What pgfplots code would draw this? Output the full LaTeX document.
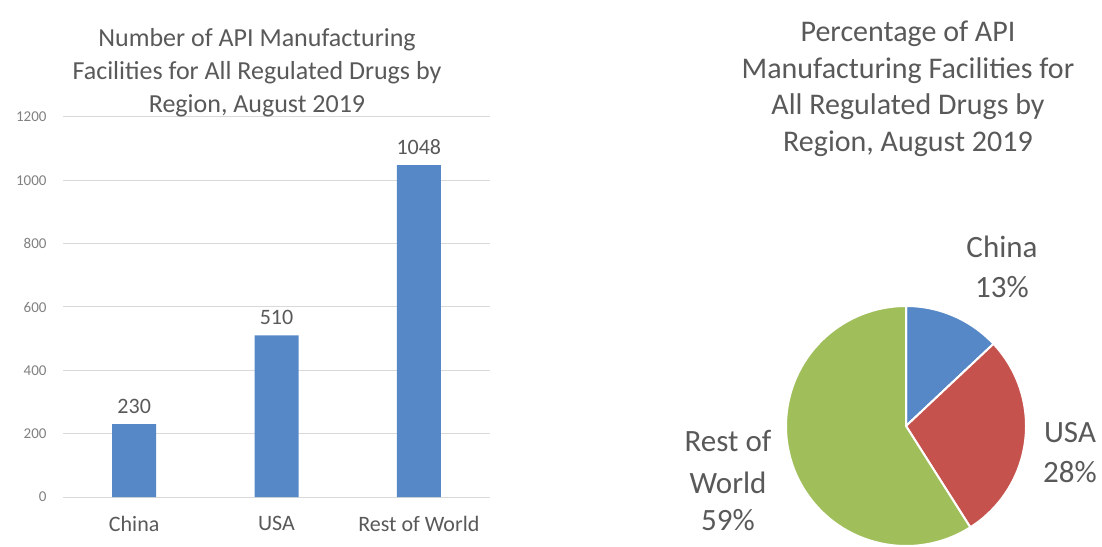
\documentclass[border=0pt]{standalone}
\usepackage{pgfplots}
\pgfplotsset{compat=1.18}
\usepackage{pgfplotstable}
\usepackage{fontspec}
\setmainfont{Carlito}
\definecolor{barblue}{HTML}{5688C7}
\definecolor{piered}{HTML}{C6524E}
\definecolor{piegreen}{HTML}{A0BF5B}
\definecolor{txt}{HTML}{595959}
\definecolor{gridc}{HTML}{D9D9D9}

\pgfplotstableread{
x value
0 230
1 510
2 1048
}\bardata
% pie shares (percent): China, USA, Rest of World
\newcommand\pChina{13}
\newcommand\pUSA{28}
\newcommand\pRoW{59}

\begin{document}
\begin{tikzpicture}[x=1pt,y=1pt]
\useasboundingbox (0,0) rectangle (1102,546);
\clip (0,0) rectangle (1102,546);
\pgfmathsetmacro\aA{90}
\pgfmathsetmacro\aB{90-3.6*\pChina}
\pgfmathsetmacro\aC{\aB-3.6*\pUSA}
\pgfmathsetmacro\aD{\aC-3.6*\pRoW}

\begin{axis}[at={(63pt,49pt)}, anchor=south west, scale only axis,
  width=427pt, height=380pt,
  xmin=-0.5, xmax=2.5, ymin=0, ymax=1200,
  ytick={0,200,...,1200}, xtick={0,1,2},
  xticklabels={China,USA,Rest of World},
  ymajorgrids, grid style={gridc, line width=1pt},
  axis line style={draw=none}, major tick length=0pt,
  /pgf/number format/assume math mode=true,
  /pgf/number format/1000 sep={},
  yticklabel style={font=\fontsize{15}{15}\selectfont, text=gray, xshift=-13pt},
  xticklabel style={font=\fontsize{22}{22}\selectfont, text=txt, yshift=-16pt},
  ybar, bar width=44pt,
  nodes near coords,
  nodes near coords style={font=\fontsize{22}{22}\selectfont, text=txt, yshift=7pt},
]
\addplot[fill=barblue, draw=none] table[x=x,y=value]{\bardata};
\end{axis}

\begin{axis}[at={(906pt,120pt)}, anchor=center, scale only axis,
  width=240pt, height=240pt, xmin=-1, xmax=1, ymin=-1, ymax=1,
  hide axis, clip=false]
\fill[barblue, draw=white, line width=2pt] (axis cs:0,0) -- ++(\aA:120pt) arc[start angle=\aA, end angle=\aB, radius=120pt] -- cycle;
\fill[piered, draw=white, line width=2pt] (axis cs:0,0) -- ++(\aB:120pt) arc[start angle=\aB, end angle=\aC, radius=120pt] -- cycle;
\fill[piegreen, draw=white, line width=2pt] (axis cs:0,0) -- ++(\aC:120pt) arc[start angle=\aC, end angle=\aD, radius=120pt] -- cycle;
\end{axis}

\begin{scope}[every node/.style={text=txt, inner sep=0pt, anchor=base}]
\node[font=\fontsize{26}{26}\selectfont] at (257,499) {Number of API Manufacturing};
\node[font=\fontsize{26}{26}\selectfont] at (257,466) {Facilities for All Regulated Drugs by};
\node[font=\fontsize{26}{26}\selectfont] at (257,433) {Region, August 2019};
\node[font=\fontsize{30}{30}\selectfont] at (908,504) {Percentage of API};
\node[font=\fontsize{30}{30}\selectfont] at (908,467) {Manufacturing Facilities for};
\node[font=\fontsize{30}{30}\selectfont] at (908,431) {All Regulated Drugs by};
\node[font=\fontsize{30}{30}\selectfont] at (908,394) {Region, August 2019};
\node[font=\fontsize{31}{31}\selectfont] at (1002,288) {China};
\node[font=\fontsize{31}{31}\selectfont] at (1002,248) {13\%};
\node[font=\fontsize{31}{31}\selectfont] at (1070,103) {USA};
\node[font=\fontsize{31}{31}\selectfont] at (1070,64) {28\%};
\node[font=\fontsize{31}{31}\selectfont] at (728,94) {Rest of};
\node[font=\fontsize{31}{31}\selectfont] at (728,53) {World};
\node[font=\fontsize{31}{31}\selectfont] at (728,16) {59\%};
\end{scope}
\end{tikzpicture}
\end{document}
